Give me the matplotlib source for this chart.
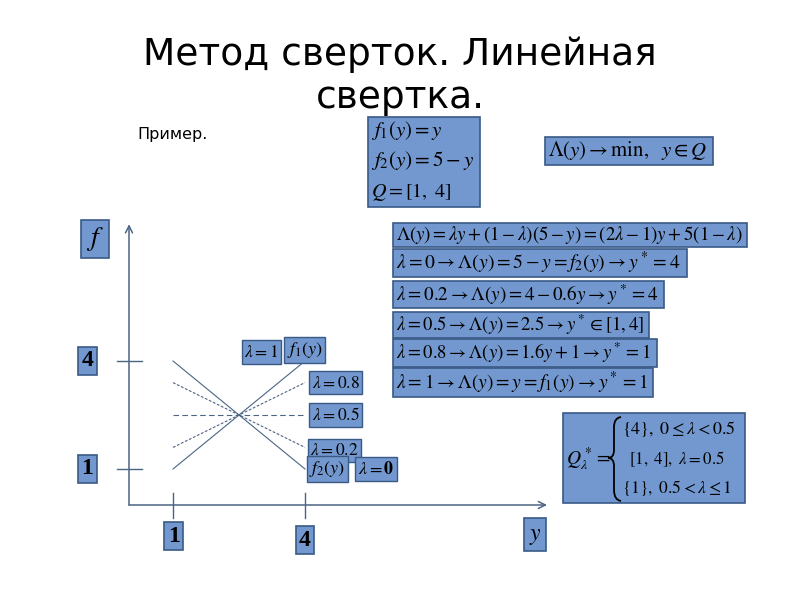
import matplotlib
matplotlib.use("Agg")
import matplotlib.pyplot as plt
from matplotlib.patches import Rectangle, PathPatch
from matplotlib.path import Path

plt.rcParams['mathtext.fontset'] = 'stix'
plt.rcParams['font.family'] = ['DejaVu Sans']

# data
lam_labels = ['0', '0.2', '0.5', '0.8', '1']
y_ends = [1, 4]
f_at_1 = [4, 3.4, 2.5, 1.6, 1]   # value of the convolution at y = 1
f_at_4 = [1, 1.6, 2.5, 3.4, 4]   # value at y = 4
tick_vals = [1, 4]

line_col = '#4b6584'
box_fc = '#7298cf'
box_ec = '#3a5a86'

W, H = 800, 600
fig = plt.figure(figsize=(8, 6), dpi=100)
fig.patch.set_facecolor('white')
renderer = fig.canvas.get_renderer()


def fx(px):
    return px / W


def fy(py):
    return 1 - py / H


def box(x0, y0, x1, y1):
    fig.add_artist(Rectangle((fx(x0), fy(y1)), (x1 - x0) / W, (y1 - y0) / H,
                             transform=fig.transFigure, fc=box_fc, ec=box_ec, lw=1.2))


def fit_text(x, y, s, width, size=14, **kw):
    # put a formula and shrink/grow it so it spans the given pixel width
    t = fig.text(fx(x), fy(y), s, fontsize=size, va='center', **kw)
    w = t.get_window_extent(renderer).width
    t.set_fontsize(size * width / w)
    return t


# title
fig.text(0.5, fy(55), 'Метод сверток. Линейная', ha='center', va='center', fontsize=27)
fig.text(0.5, fy(98), 'свертка.', ha='center', va='center', fontsize=27)
fig.text(fx(137), fy(135), 'Пример.', ha='left', va='center', fontsize=11.5)

# chart axes: pixel x = 129 + 44*y, pixel y = 505 - 36*f
ax = fig.add_axes([fx(129 - 44 * 1.5), fy(505 + 36 * 1.5), 44 * 11.5 / W, 36 * 10 / H])
ax.set_xlim(-1.5, 10)
ax.set_ylim(-1.5, 8.5)
ax.set_axis_off()

arr = dict(arrowstyle='->,head_length=0.5,head_width=0.25', color=line_col, lw=1.1,
           shrinkA=0, shrinkB=0)
ax.annotate('', xy=(0, 7.8), xytext=(0, 0), arrowprops=arr)
ax.annotate('', xy=(9.5, 0), xytext=(0, 0), arrowprops=arr)

for t in tick_vals:
    ax.plot([-0.27, 0.3], [t, t], color=line_col, lw=1.0)
    ax.plot([t, t], [-0.36, 0.33], color=line_col, lw=1.0)

styles = ['-', (0, (2.5, 1.5)), (0, (5, 3)), (0, (2.5, 1.5)), '-']
for a, b, ls in zip(f_at_1, f_at_4, styles):
    ax.plot(y_ends, [a, b], color=line_col, lw=0.8, ls=ls)

bb = dict(boxstyle='square,pad=0.15', fc=box_fc, ec=box_ec, lw=1.0)
ax.text(4.15, f_at_4[3], r'$\lambda = 0.8$', fontsize=12.5, va='center', ha='left', bbox=bb)
ax.text(4.15, f_at_4[2], r'$\lambda = 0.5$', fontsize=12.5, va='center', ha='left', bbox=bb)
ax.text(4.12, f_at_4[1] - 0.08, r'$\lambda = 0.2$', fontsize=12.5, va='center', ha='left', bbox=bb)
ax.text(4.1, f_at_4[0], r'$f_2(y)$', fontsize=13, va='center', ha='left', bbox=bb)
ax.text(5.2, f_at_4[0], r'$\lambda = \mathbf{0}$', fontsize=13, va='center', ha='left', bbox=bb)
ax.text(3.58, f_at_4[4] + 0.3, r'$f_1(y)$', fontsize=13, va='center', ha='left', bbox=bb)
ax.text(2.62, f_at_4[4] + 0.25, r'$\lambda = 1$', fontsize=12.5, va='center', ha='left', bbox=bb)

bbt = dict(boxstyle='square,pad=0.15', fc=box_fc, ec=box_ec, lw=1.2)
for t in tick_vals:
    ax.text(-0.95, t, str(t), fontsize=17, fontweight='bold', family='Liberation Serif',
            va='center', ha='center', bbox=bbt)
ax.text(1.02, -0.87, '1', fontsize=17, fontweight='bold', family='Liberation Serif',
        va='center', ha='center', bbox=bbt)
ax.text(4.0, -0.98, '4', fontsize=17, fontweight='bold', family='Liberation Serif',
        va='center', ha='center', bbox=bbt)
ax.text(-0.78, 7.4, r'$f$', fontsize=20, va='center', ha='center',
        bbox=dict(boxstyle='square,pad=0.18', fc=box_fc, ec=box_ec, lw=1.2))
ax.text(9.23, -0.82, r'$y$', fontsize=17, va='center', ha='center',
        bbox=dict(boxstyle='square,pad=0.2', fc=box_fc, ec=box_ec, lw=1.2))

# formula boxes
box(368, 117, 480, 207)
fit_text(371, 131, r'$f_1(y) = y$', 72)
fit_text(371, 161, r'$f_2(y) = 5 - y$', 104)
fig.text(fx(371), fy(192), r'$Q = [1,\ 4]$', fontsize=14.5, va='center')

box(545, 137, 713, 165)
fit_text(548, 151, r'$\Lambda(y) \rightarrow \mathrm{min},\ \ y \in Q$', 160)

rows = [
    (223, 247, 747, 347, r'$\Lambda(y) = \lambda y + (1-\lambda)(5-y) = (2\lambda-1)y + 5(1-\lambda)$'),
    (249, 277, 687, 286, r'$\lambda = 0 \rightarrow \Lambda(y) = 5 - y = f_2(y) \rightarrow y^* = 4$'),
    (281, 308, 664, 263, r'$\lambda = 0.2 \rightarrow \Lambda(y) = 4 - 0.6y \rightarrow y^* = 4$'),
    (312, 338, 649, 249, r'$\lambda = 0.5 \rightarrow \Lambda(y) = 2.5 \rightarrow y^* \in [1, 4]$'),
    (339, 367, 657, 256, r'$\lambda = 0.8 \rightarrow \Lambda(y) = 1.6y + 1 \rightarrow y^* = 1$'),
    (368, 397, 653, 253, r'$\lambda = 1 \rightarrow \Lambda(y) = y = f_1(y) \rightarrow y^* = 1$'),
]
for y0, y1, x1, tw, s in rows:
    box(393, y0, x1, y1)
    fit_text(396, (y0 + y1) / 2, s, tw)

box(563, 413, 745, 503)
fig.text(fx(566), fy(459), r'$Q^*_\lambda =$', fontsize=14, va='center')
fit_text(622, 429, r'$\{4\},\ 0 \leq \lambda < 0.5$', 114)
fit_text(629, 459, r'$[1,\ 4],\ \lambda = 0.5$', 96)
fit_text(622, 488, r'$\{1\},\ 0.5 < \lambda \leq 1$', 110)

# curly brace drawn as a path (pixel coords)
pts = [(621, 417), (614, 418), (614, 427), (614, 450),
       (614, 458), (608, 458), (614, 458), (614, 466),
       (614, 490), (614, 500), (621, 501)]
codes = [Path.MOVETO, Path.CURVE3, Path.CURVE3, Path.LINETO,
         Path.CURVE3, Path.CURVE3, Path.CURVE3, Path.CURVE3,
         Path.LINETO, Path.CURVE3, Path.CURVE3]
brace = Path([(fx(a), fy(b)) for a, b in pts], codes)
fig.add_artist(PathPatch(brace, transform=fig.transFigure, fc='none', ec='black', lw=1.3))

fig.savefig('out.png', dpi=100, facecolor='white')
